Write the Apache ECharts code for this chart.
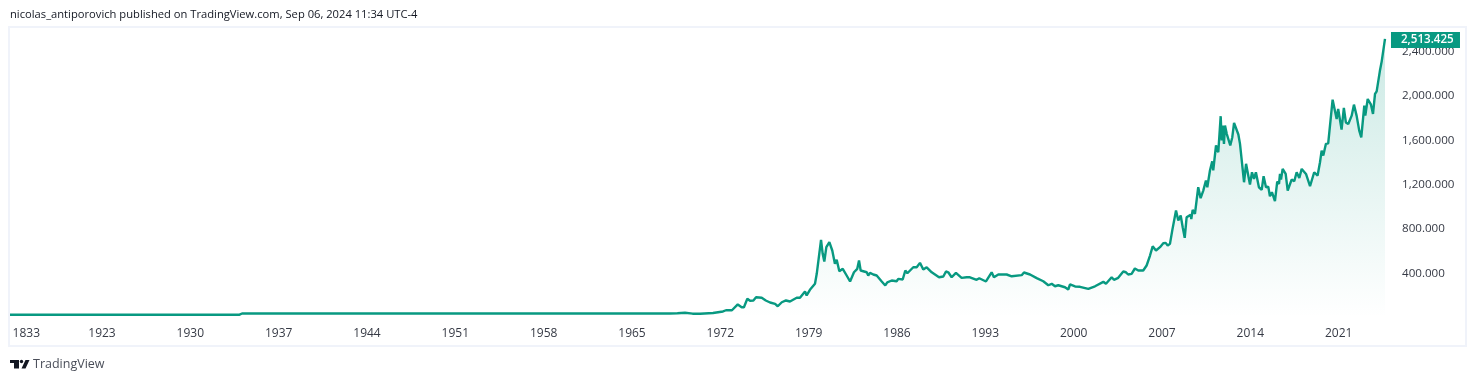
<!DOCTYPE html>
<html><head><meta charset="utf-8">
<style>html,body{margin:0;padding:0;background:#fff}#c{width:1476px;height:382px}</style>
<script src="https://cdn.jsdelivr.net/npm/echarts@6/dist/echarts.min.js"></script>
</head><body><div id="c"></div>
<script>
const publishedText = "nicolas_antiporovich published on TradingView.com, Sep 06, 2024 11:34 UTC-4";
const brandText = "TradingView";
const lastPriceText = "2,513.425";
const tickYears = [1917,1923,1930,1937,1944,1951,1958,1965,1972,1979,1986,1993,2000,2007,2014,2021];
const tickLabels = ["1833","1923","1930","1937","1944","1951","1958","1965","1972","1979","1986","1993","2000","2007","2014","2021"];
const priceTicks = [400,800,1200,1600,2000,2400];
const years = [1915.71,1933.9,1934.1,1968.0,1968.6,1969.2,1969.8,
1970.39,1971.42,1972.21,1972.45,1972.92,1973.38,1973.69,1973.87,1974.14,1974.35,1974.62,1974.83,1975.28,1975.60,1975.94,1976.34,1976.55,1976.87,1977.20,1977.52,1978.05,1978.31,1978.71,1978.84,1979.10,1979.50,1979.64,1979.76,1979.98,1980.11,1980.24,1980.40,1980.64,1980.87,1981.08,1981.22,1981.43,1981.70,1982.01,1982.28,1982.43,1982.59,1982.85,1982.99,1983.12,1983.60,1983.72,1983.86,1984.12,1984.39,1984.79,1985.07,1985.23,1985.58,1985.97,1986.10,1986.45,1986.66,1986.82,1987.29,1987.56,1987.82,1988.08,1988.35,1988.75,1988.87,1989.33,1989.67,1989.88,1990.06,1990.33,1990.67,1991.12,1991.52,1991.78,1992.31,1992.52,1993.05,1993.50,1993.68,1994.03,1994.69,1995.09,1995.88,1996.06,1996.54,1997.07,1997.59,1997.99,1998.26,1998.52,1998.78,1999.31,1999.57,1999.71,2000.11,2000.50,2001.16,2001.69,2001.82,2002.35,2002.56,2003.01,2003.19,2003.53,2003.93,2004.14,2004.32,2004.59,2004.85,2005.12,2005.51,2005.78,2006.05,2006.26,2006.52,2006.84,2007.10,2007.29,2007.45,2007.63,2007.82,2008.11,2008.29,2008.48,2008.64,2008.80,2008.95,2009.27,2009.32,2009.43,2009.61,2009.87,2010.06,2010.27,2010.48,2010.59,2010.80,2010.98,2011.06,2011.28,2011.46,2011.65,2011.73,2011.81,2011.91,2011.99,2012.13,2012.25,2012.41,2012.57,2012.71,2013.05,2013.18,2013.50,2013.66,2013.97,2014.13,2014.29,2014.44,2014.68,2014.90,2015.05,2015.24,2015.42,2015.55,2015.71,2015.95,2016.13,2016.27,2016.35,2016.43,2016.56,2016.80,2016.96,2017.27,2017.48,2017.67,2017.88,2018.07,2018.41,2018.73,2018.86,2019.06,2019.33,2019.52,2019.65,2019.78,2019.99,2020.17,2020.52,2020.65,2020.84,2020.96,2021.23,2021.41,2021.57,2021.76,2022.03,2022.21,2022.42,2022.63,2022.79,2023.03,2023.11,2023.30,2023.56,2023.72,2023.88,2024.01,2024.14,2024.27,2024.41,2024.49,2024.67];
const prices = [29,29,40,40,42,46,38,
38,44,58,69,69,121,96,96,172,154,157,186,181,157,139,127,105,141,157,148,181,181,238,202,253,307,397,411,703,577,508,637,682,607,487,523,420,442,382,328,319,411,442,517,427,411,382,406,391,382,328,292,321,337,330,352,346,427,402,456,456,496,436,456,411,420,366,373,418,411,366,406,361,366,366,343,357,328,411,366,391,391,375,385,409,391,358,330,294,307,285,294,276,256,301,283,280,262,285,276,325,307,366,343,361,418,411,391,397,445,427,427,472,562,645,607,637,672,676,652,667,793,967,877,922,816,721,906,930,891,973,937,1177,1078,1147,1237,1177,1328,1411,1328,1553,1492,1817,1598,1733,1568,1733,1658,1658,1553,1628,1757,1652,1568,1222,1388,1201,1312,1253,1312,1177,1154,1276,1177,1183,1096,1132,1051,1228,1207,1297,1246,1342,1297,1147,1246,1231,1312,1261,1342,1297,1186,1201,1312,1282,1402,1507,1462,1568,1573,1966,1957,1792,1882,1696,1891,1761,1747,1822,1921,1822,1687,1627,1912,1822,1972,1921,1837,2017,2041,2032,2228,2311,2311,2513.425];

const FONT = '"Open Sans", sans-serif';
const chart = echarts.init(document.getElementById('c'), null, {renderer:'canvas'});
chart.setOption({
  animation:false,
  backgroundColor:'#ffffff',
  grid:{left:10,right:90,top:28.5,bottom:64.1},
  xAxis:{type:'value',min:1915.71,max:2024.75,
    splitLine:{show:false},axisLine:{show:false},axisTick:{show:false},
    axisLabel:{customValues:tickYears,margin:9.5,color:'#363a45',fontFamily:FONT,fontSize:12,
      formatter:v=>tickLabels[tickYears.indexOf(v)]}},
  yAxis:{type:'value',position:'right',min:0,max:2607,
    splitLine:{show:false},axisLine:{show:false},axisTick:{show:false},
    axisLabel:{customValues:priceTicks,margin:16,color:'#363a45',fontFamily:FONT,fontSize:11.6,padding:[1,0,0,0],
      formatter:v=>v.toLocaleString('en-US')+'.000'}},
  series:[{type:'line',data:years.map((y,i)=>[y,prices[i]]),showSymbol:false,symbol:'none',
    lineStyle:{color:'#089981',width:2.4},
    itemStyle:{color:'#089981'},
    areaStyle:{origin:'start',color:new echarts.graphic.LinearGradient(0,0,0,1,[
      {offset:0,color:'rgba(8,153,129,0.3)'},{offset:1,color:'rgba(8,153,129,0)'}])},
    endLabel:{show:true,formatter:()=>lastPriceText,distance:6,offset:[0,1],
      backgroundColor:'#089981',color:'#fff',fontFamily:FONT,fontSize:11.6,fontWeight:600,
      padding:[2,7,2,10],width:52,align:'left'},
    silent:true,z:3}],
  graphic:[
    {type:'rect',shape:{x:9,y:27,width:1457,height:319},style:{fill:'none',stroke:'#f0f3fa',lineWidth:2},z:-1,silent:true},
    {type:'text',left:10,top:9,style:{text:publishedText,fill:'#131722',font:'11.2px '+FONT}},
    {type:'text',left:33,top:358,style:{text:brandText,fill:'#4a4e59',font:'12.5px '+FONT}},
    {type:'rect',shape:{x:10,y:360,width:9,height:3},style:{fill:'#131722'}},
    {type:'rect',shape:{x:14,y:360,width:5,height:8.5},style:{fill:'#131722'}},
    {type:'circle',shape:{cx:21.5,cy:361.5,r:1.7},style:{fill:'#131722'}},
    {type:'polygon',shape:{points:[[25.5,360],[29.5,360],[25.5,368.5],[21.5,368.5]]},style:{fill:'#131722'}}
  ]
});
</script></body></html>
